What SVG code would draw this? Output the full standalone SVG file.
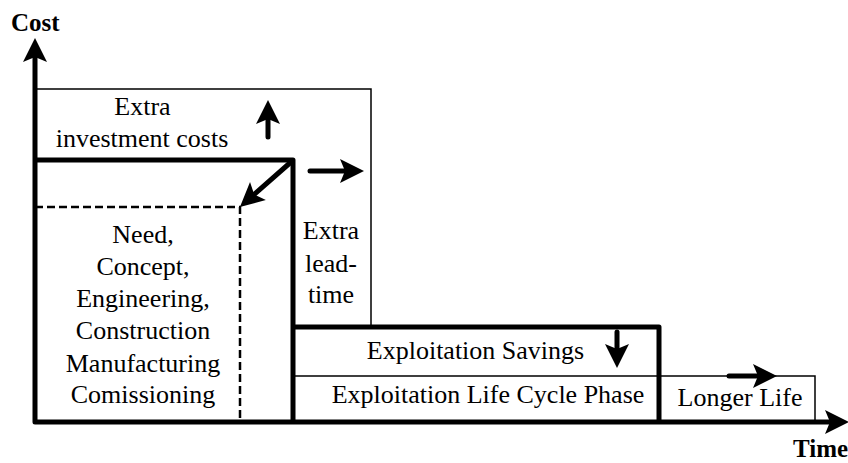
<svg xmlns="http://www.w3.org/2000/svg" width="848" height="463" viewBox="0 0 848 463">
  <style>
    .t { font-family: "Liberation Serif", "Times New Roman", serif; font-size: 26px; fill: #000; text-anchor: middle; }
    .b { font-family: "Liberation Serif", "Times New Roman", serif; font-size: 25px; font-weight: bold; fill: #000; }
    .thick { fill: none; stroke: #000; stroke-width: 5; stroke-linejoin: round; }
    .thin { fill: none; stroke: #000; stroke-width: 1.5; }
    .dash { fill: none; stroke: #000; stroke-width: 2.5; stroke-dasharray: 8 4; }
    .arr { fill: none; stroke: #000; stroke-width: 5; stroke-linecap: round; marker-end: url(#ah); }
  </style>
  <defs>
    <marker id="ah" viewBox="-1 -13 26 26" markerWidth="26" markerHeight="26" refX="5" refY="0" orient="auto-start-reverse" markerUnits="userSpaceOnUse">
      <path d="M24,0 L0,-12 L5,0 L0,12 Z" fill="#000"/>
    </marker>
  </defs>
  <rect width="848" height="463" fill="#fff"/>

  <g id="labels-axes">
    <text class="b" x="11" y="31">Cost</text>
    <text class="b" x="793" y="457">Time</text>
  </g>

  <g id="investment-extra">
    <path class="thin" d="M35,89 H371 V327"/>
    <text class="t" x="142.5" y="115">Extra</text>
    <text class="t" x="142" y="147">investment costs</text>
  </g>

  <g id="investment-phase">
    <path class="thick" d="M35,160 H293 V422"/>
    <text class="t" x="143" y="243">Need,</text>
    <text class="t" x="143" y="275">Concept,</text>
    <text class="t" x="143" y="307">Engineering,</text>
    <text class="t" x="143" y="339">Construction</text>
    <text class="t" x="143" y="372">Manufacturing</text>
    <text class="t" x="143" y="403">Comissioning</text>
  </g>

  <g id="reduced-phase">
    <path class="dash" d="M35,207 H240 V422"/>
  </g>

  <g id="extra-lead-time">
    <text class="t" x="331" y="239">Extra</text>
    <text class="t" x="331" y="272">lead-</text>
    <text class="t" x="331" y="303">time</text>
  </g>

  <g id="exploitation-phase">
    <path class="thick" d="M293,327 H659 V422"/>
    <path class="thin" d="M293,376 H815 V422"/>
    <text class="t" x="475.5" y="359">Exploitation Savings</text>
    <text class="t" x="488" y="403">Exploitation Life Cycle Phase</text>
  </g>

  <g id="longer-life">
    <text class="t" x="740" y="406">Longer Life</text>
  </g>

  <g id="connectors">
    <path class="thick" d="M35,57 V422 H830" marker-start="url(#ah)" marker-end="url(#ah)"/>
    <path class="arr" d="M268,137 V119"/>
    <path class="arr" d="M310,171 H345"/>
    <path class="arr" d="M291,162 L254.2,194.4"/>
    <path class="arr" d="M617,332 V349"/>
    <path class="arr" d="M729,376 H758"/>
  </g>
</svg>
